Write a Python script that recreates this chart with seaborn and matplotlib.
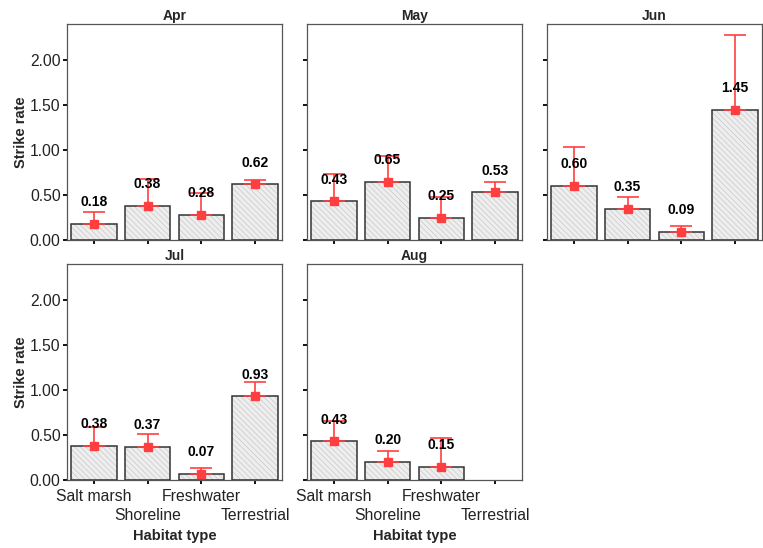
import numpy as np
import pandas as pd
import matplotlib
matplotlib.use('Agg')
import matplotlib.pyplot as plt
from matplotlib.patches import Rectangle
import seaborn as sns

# Strike rate by habitat type, one panel per month
months = ['Apr', 'May', 'Jun', 'Jul', 'Aug']
habitats = ['Salt marsh', 'Shoreline', 'Freshwater', 'Terrestrial']

rate_apr = [0.18, 0.38, 0.28, 0.62]
rate_may = [0.43, 0.65, 0.25, 0.53]
rate_jun = [0.60, 0.35, 0.09, 1.45]
rate_jul = [0.38, 0.37, 0.07, 0.93]
rate_aug = [0.43, 0.20, 0.15, np.nan]

# top of the (upper only) error bars
upper_apr = [0.31, 0.68, 0.52, 0.67]
upper_may = [0.73, 0.93, 0.48, 0.64]
upper_jun = [1.03, 0.48, 0.16, 2.28]
upper_jul = [0.59, 0.51, 0.13, 1.09]
upper_aug = [0.66, 0.32, 0.47, np.nan]

rates = [rate_apr, rate_may, rate_jun, rate_jul, rate_aug]
uppers = [upper_apr, upper_may, upper_jun, upper_jul, upper_aug]

rows = []
for m, r, u in zip(months, rates, uppers):
    for h, v, t in zip(habitats, r, u):
        rows.append({'month': m, 'habitat': h, 'rate': v, 'upper': t})
df = pd.DataFrame(rows)

sns.set_style('white')
plt.rcParams['font.family'] = ['Liberation Sans', 'DejaVu Sans']
plt.rcParams['hatch.linewidth'] = 0.5

fig = plt.figure(figsize=(7.63, 5.48), dpi=100)
W, H = 763, 548
lefts = [67, 307, 547]
tops = [24, 264]
pw, ph = 215, 216

red = '#ff3f3f'
for i, m in enumerate(months):
    r, c = divmod(i, 3)
    ax = fig.add_axes([lefts[c] / W, 1 - (tops[r] + ph) / H, pw / W, ph / H])
    d = df[df['month'] == m]
    sns.barplot(data=d, x='habitat', y='rate', order=habitats, errorbar=None,
                color='#eeeeee', edgecolor='#c8c8c8', linewidth=0,
                width=0.85, hatch='\\\\\\\\\\\\', ax=ax, saturation=1)
    # dark outline on each bar
    for p in list(ax.patches):
        if np.isfinite(p.get_height()):
            ax.add_patch(Rectangle(p.get_xy(), p.get_width(), p.get_height(),
                                   fill=False, edgecolor='#333333', lw=1.1, zorder=3))
    x = np.arange(len(habitats))
    vals = d['rate'].to_numpy()
    ups = d['upper'].to_numpy()
    ok = np.isfinite(vals)
    ax.errorbar(x[ok], vals[ok], yerr=[np.zeros(ok.sum()), ups[ok] - vals[ok]],
                fmt='s', color=red, ecolor=red, elinewidth=1.2, capsize=8,
                capthick=1.2, markersize=5.5, zorder=4)
    for xi, v in zip(x[ok], vals[ok]):
        ax.text(xi, v + 0.24, f'{v:.2f}', ha='center', va='center',
                fontsize=10, fontweight='bold', color='black', zorder=5)

    ax.set_xlim(-0.5, 3.5)
    ax.set_ylim(0, 2.4)
    ax.set_yticks([0, 0.5, 1.0, 1.5, 2.0])
    ax.set_title(m, fontsize=10, fontweight='bold', pad=3)
    for s in ax.spines.values():
        s.set_color('#555555')
        s.set_linewidth(0.9)
    ax.tick_params(axis='both', direction='out', length=3, width=1.3,
                   color='black', labelsize=11.3, labelcolor='#222222')
    ax.tick_params(axis='y', pad=1.5)
    ax.tick_params(left=True, bottom=True)
    if c == 0:
        ax.set_yticklabels(['0.00', '0.50', '1.00', '1.50', '2.00'])
        ax.set_ylabel('Strike rate', fontsize=10.5, fontweight='bold', labelpad=1)
    else:
        ax.set_yticklabels([])
        ax.set_ylabel('')
    ax.set_xticks(x)
    if r == 1:
        ax.set_xticklabels(habitats)
        # staggered labels: every second one sits a row lower
        for k, t in enumerate(ax.xaxis.get_major_ticks()):
            t.set_pad(3.5 if k % 2 == 0 else 17.2)
        ax.set_xlabel('Habitat type', fontsize=10.5, fontweight='bold', labelpad=4.5)
    else:
        ax.set_xticklabels([])
        ax.set_xlabel('')

fig.savefig('out.png', dpi=100)
